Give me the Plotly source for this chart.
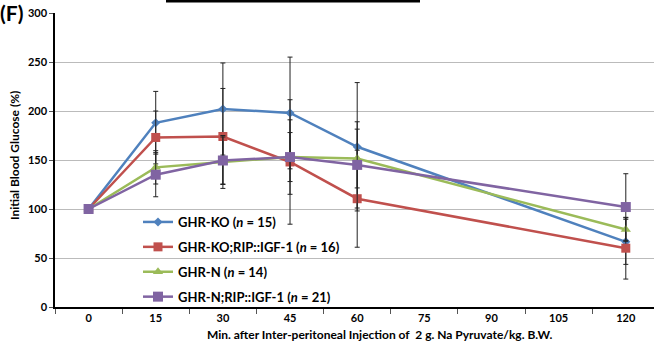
import plotly.graph_objects as go

# ---- data ----
minutes = [0, 15, 30, 45, 60, 120]
tick_minutes = [0, 15, 30, 45, 60, 75, 90, 105, 120]
tick_labels = ["0", "15", "30", "45", "60", "75", "90", "105", "120"]

ghr_ko = [100, 188, 202, 198, 163.5, 66.5]
ghr_ko_err = [0, 32, 47, 57, 65.5, 23]

ghr_ko_rip = [100, 173, 174, 148, 110.5, 60]
ghr_ko_rip_err = [0, 27, 49, 63.5, 49.5, 31.5]

ghr_n = [100, 142.5, 148, 153, 151.5, 79]
ghr_n_err = [0, 17, 27, 25, 30, 12]

ghr_n_rip = [100, 135, 149.5, 153, 145, 102]
ghr_n_rip_err = [0, 22.5, 24, 38, 44, 34]

names = ["GHR-KO (<i>n</i> = 15)", "GHR-KO;RIP::IGF-1 (<i>n</i> = 16)",
         "GHR-N (<i>n</i> = 14)", "GHR-N;RIP::IGF-1 (<i>n</i> = 21)"]
series = [ghr_ko, ghr_ko_rip, ghr_n, ghr_n_rip]
errors = [ghr_ko_err, ghr_ko_rip_err, ghr_n_err, ghr_n_rip_err]
colors = ["#4F81BD", "#C0504D", "#9BBB59", "#8064A2"]
symbols = ["diamond", "square", "triangle-up", "square"]
sizes = [7, 9, 9, 10]

FONT = "Lato"
W, H = 654, 345
ML, MR, MT, MB = 55, 0, 13, 38
PW, PH = W - ML - MR, H - MT - MB


def px(x):
    return (x - ML) / PW


def py(y):
    return (H - MB - y) / PH


fig = go.Figure()
for i in range(4):
    fig.add_trace(go.Scatter(
        x=minutes, y=series[i], name=names[i], mode="lines+markers",
        line=dict(color=colors[i], width=2.5),
        marker=dict(symbol=symbols[i], size=sizes[i], color=colors[i]),
        error_y=dict(type="data", array=errors[i], visible=True,
                     color="#222222", thickness=1, width=2.5),
        legendgroup=str(i),
    ))

fig.update_layout(
    width=W, height=H,
    margin=dict(l=ML, r=MR, t=MT, b=MB),
    paper_bgcolor="white", plot_bgcolor="white",
    font=dict(family=FONT, color="black"),
    showlegend=True,
    legend=dict(x=px(138), y=py(207), xanchor="left", yanchor="top",
                bgcolor="rgba(0,0,0,0)", tracegroupgap=5,
                font=dict(family=FONT, size=13, weight="bold", color="black")),
    xaxis=dict(
        range=[-7.5, 126.3], tickmode="array", tickvals=tick_minutes,
        ticktext=tick_labels, ticks="", showgrid=False, zeroline=False,
        showline=True, linecolor="black", linewidth=1.5,
        tickfont=dict(family=FONT, size=11, weight="bold"),
        minor=dict(tick0=-7.5, dtick=15, ticks="outside", ticklen=5,
                   tickcolor="#555555", showgrid=False),
    ),
    yaxis=dict(
        range=[0, 300], dtick=50, ticks="outside", ticklen=4, tickcolor="#555555",
        showgrid=True, gridcolor="#BBBBBB", gridwidth=1, zeroline=False,
        showline=True, linecolor="black", linewidth=1.5,
        tickfont=dict(family=FONT, size=11, weight="bold"),
    ),
    annotations=[
        dict(text="(F)", xref="paper", yref="paper", x=px(-1), y=py(-1),
             xanchor="left", yanchor="top", showarrow=False, borderpad=0,
             font=dict(family=FONT, size=21, weight="bold")),
        dict(text="Min. after Inter-peritoneal Injection of  2 g. Na Pyruvate/kg. B.W.",
             xref="paper", yref="paper", x=px(380), y=py(334),
             xanchor="center", yanchor="middle", showarrow=False,
             font=dict(family=FONT, size=12, weight="bold")),
        dict(text="Initial Blood Glucose (%)", xref="paper", yref="paper",
             x=px(14), y=py(156), xanchor="center", yanchor="middle",
             textangle=-90, showarrow=False,
             font=dict(family=FONT, size=12, weight="bold")),
    ],
    shapes=[
        dict(type="rect", xref="paper", yref="paper", x0=px(166), x1=px(420),
             y0=py(2.5), y1=py(0), fillcolor="black", line=dict(width=0)),
    ],
)

fig.write_html("out.html")
